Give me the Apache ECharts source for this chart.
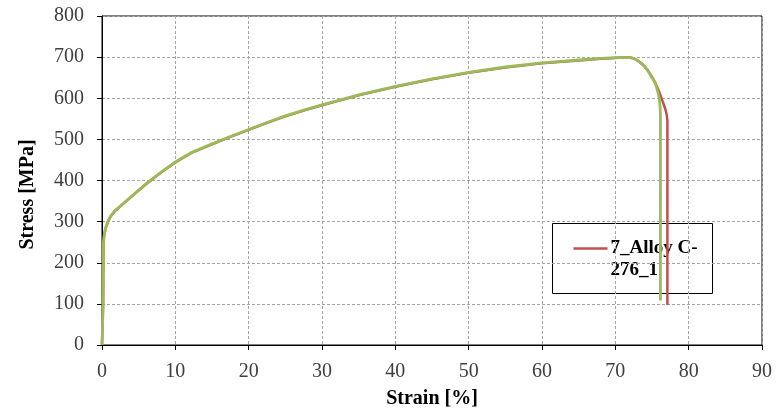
<!DOCTYPE html>
<html>
<head>
<meta charset="utf-8">
<script src="https://cdn.jsdelivr.net/npm/echarts@6/dist/echarts.min.js"></script>
<style>html,body{margin:0;padding:0;background:#fff}#c{width:779px;height:414px}</style>
</head>
<body>
<div id="c"></div>
<script>
var xTicks = [0, 10, 20, 30, 40, 50, 60, 70, 80, 90];
var yTicks = [0, 100, 200, 300, 400, 500, 600, 700, 800];

var redName = '7_Alloy C-276_1';
var redStrain = [0, 0.15, 0.2, 0.3, 0.5, 0.86, 1.2, 1.77, 2.5, 3.6, 4.5, 5.87, 7, 8.1, 10, 12.2, 15, 17.5, 20, 22.5, 25, 27.5, 30, 35, 40, 45, 50, 55, 60, 65, 68, 70, 71, 72, 72.5, 73, 73.5, 74, 74.5, 75, 75.5, 76, 76.4, 76.8, 77.0, 77.1, 77.1];
var redStress = [0, 100, 250, 267, 284, 302, 313, 326, 337, 354, 368, 389, 405, 420, 444, 467, 488, 506, 523, 540, 556, 570, 583, 607, 628, 646, 662, 675, 685, 692, 696, 698, 699, 699, 697, 692, 685, 677, 666, 652, 635, 615, 595, 575, 560, 545, 97];

var greenName = '7_Alloy C-276_2';
var greenStrain = [0, 0.15, 0.2, 0.3, 0.5, 0.86, 1.2, 1.77, 2.5, 3.6, 4.5, 5.87, 7, 8.1, 10, 12.2, 15, 17.5, 20, 22.5, 25, 27.5, 30, 35, 40, 45, 50, 55, 60, 65, 68, 70, 71, 72, 72.5, 73, 73.5, 74, 74.5, 75, 75.4, 75.8, 76.0, 76.1, 76.15, 76.15];
var greenStress = [0, 100, 250, 268, 285, 303, 314, 327, 338, 355, 369, 390, 406, 421, 445, 468, 489, 507, 524, 541, 557, 571, 584, 608, 629, 647, 663, 676, 686, 693, 697, 699, 699, 699, 697, 692, 686, 678, 665, 650, 640, 615, 598, 580, 560, 108];

function pairs(xs, ys) { return xs.map(function (x, i) { return [x, ys[i]]; }); }

var chart = echarts.init(document.getElementById('c'), null, {renderer: 'canvas'});
var font = '"Liberation Serif", "Times New Roman", serif';
chart.setOption({
  animation: false,
  backgroundColor: '#fff',
  grid: {left: 102, right: 17, top: 16, bottom: 60, show: true, borderColor: '#000', borderWidth: 1, containLabel: false},
  xAxis: {
    type: 'value', min: xTicks[0], max: xTicks[xTicks.length - 1], interval: 10,
    name: 'Strain [%]', nameLocation: 'middle', nameGap: 44,
    nameTextStyle: {fontFamily: font, fontSize: 20, fontWeight: 'bold', color: '#000'},
    axisLine: {show: true, lineStyle: {color: '#000', width: 1}},
    axisTick: {show: true, inside: false, length: 5, lineStyle: {color: '#000'}},
    axisLabel: {fontFamily: font, fontSize: 20, color: '#404040', margin: 17},
    splitLine: {show: true, lineStyle: {color: '#a6a6a6', type: [3, 2], width: 1}}
  },
  yAxis: {
    type: 'value', min: yTicks[0], max: yTicks[yTicks.length - 1], interval: 100,
    name: 'Stress [MPa]', nameLocation: 'middle', nameGap: 64, nameRotate: 90,
    nameTextStyle: {fontFamily: font, fontSize: 20, fontWeight: 'bold', color: '#000', padding: [0, 28, 0, 0]},
    axisLine: {show: true, lineStyle: {color: '#000', width: 1}},
    axisTick: {show: true, inside: false, length: 5, lineStyle: {color: '#000'}},
    axisLabel: {fontFamily: font, fontSize: 20, color: '#404040', margin: 18},
    splitLine: {show: true, lineStyle: {color: '#a6a6a6', type: [3, 2], width: 1}}
  },
  series: [
    {name: redName, type: 'line', data: pairs(redStrain, redStress), showSymbol: false, smooth: false,
     lineStyle: {color: '#c0504d', width: 2.5}, itemStyle: {color: '#c0504d'}, z: 2},
    {name: greenName, type: 'line', data: pairs(greenStrain, greenStress), showSymbol: false, smooth: false,
     lineStyle: {color: '#9bbb59', width: 2.8}, itemStyle: {color: '#9bbb59'}, z: 3}
  ],
  graphic: [
    {type: 'group', left: 552, top: 223, z: 100, children: [
      {type: 'rect', shape: {x: 0, y: 0, width: 160, height: 70}, style: {fill: '#fff', stroke: '#000', lineWidth: 1}},
      {type: 'line', shape: {x1: 21, y1: 25, x2: 55, y2: 25}, style: {stroke: '#c0504d', lineWidth: 2.5}},
      {type: 'text', x: 58, y: 25, style: {text: '7_Alloy C-', font: 'bold 19px ' + font, fill: '#000', verticalAlign: 'middle'}},
      {type: 'text', x: 58, y: 47, style: {text: '276_1', font: 'bold 19px ' + font, fill: '#000', verticalAlign: 'middle'}}
    ]}
  ]
});
</script>
</body>
</html>
